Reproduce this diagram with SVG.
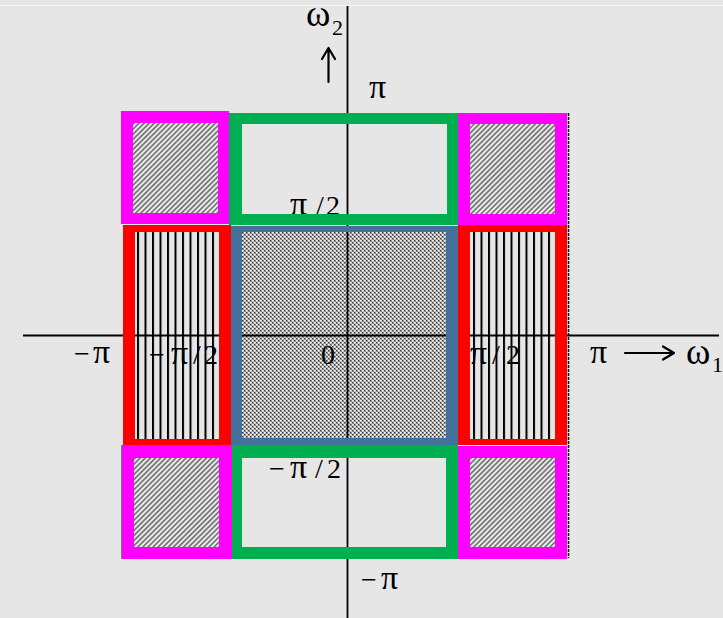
<svg xmlns="http://www.w3.org/2000/svg" width="723" height="618" viewBox="0 0 723 618">
<style>
.lbl{font-family:"Liberation Serif","Times New Roman",serif;font-size:28px;fill:#000}
.g{font-size:34px}
.w{font-size:37px}
.sub{font-size:22px}
.ax{stroke:#000;stroke-width:1.8;fill:none}
.arr{stroke:#000;stroke-width:2.2;fill:none;stroke-linecap:round;stroke-linejoin:round}
.bd{fill-rule:evenodd}
</style>
<defs>
<pattern id="diag" patternUnits="userSpaceOnUse" width="3.6" height="6" patternTransform="rotate(45)">
<rect width="3.6" height="6" fill="#ececec"/>
<rect x="1.2" width="1.2" height="6" fill="#444"/>
</pattern>
<pattern id="chk" patternUnits="userSpaceOnUse" width="4" height="4">
<rect width="4" height="4" fill="#8a8a8a"/>
<rect x="0" y="0" width="1.7" height="1.7" fill="#f4f4f4"/>
<rect x="2" y="2" width="1.7" height="1.7" fill="#f4f4f4"/>
<rect x="2" y="0" width="1" height="1" fill="#3a3a3a"/>
<rect x="0" y="2" width="1" height="1" fill="#3a3a3a"/>
</pattern>
<pattern id="strL" patternUnits="userSpaceOnUse" x="137" y="0" width="7.5" height="10">
<rect width="7.5" height="10" fill="#e6e6e6"/>
<rect width="2" height="10" fill="#000"/>
</pattern>
<pattern id="strR" patternUnits="userSpaceOnUse" x="473" y="0" width="7.5" height="10">
<rect width="7.5" height="10" fill="#e6e6e6"/>
<rect width="2" height="10" fill="#000"/>
</pattern>
</defs>
<rect width="723" height="618" fill="#e6e6e6"/>
<line x1="0" y1="5.5" x2="723" y2="5.5" stroke="#f6f6f6" stroke-width="1.2"/>

<g id="fills">
<rect x="133" y="123" width="85" height="90" fill="url(#diag)"/>
<rect x="470" y="124" width="85" height="90" fill="url(#diag)"/>
<rect x="134" y="458" width="85" height="89" fill="url(#diag)"/>
<rect x="470" y="458" width="85" height="89" fill="url(#diag)"/>
<rect x="135" y="232" width="84" height="207" fill="url(#strL)"/>
<rect x="470" y="232" width="85" height="207" fill="url(#strR)"/>
<rect x="242" y="232" width="204" height="206" fill="url(#chk)"/>
</g>

<g id="connectors">
<line class="ax" x1="347.5" y1="6" x2="347.5" y2="618"/>
<line class="ax" x1="23" y1="335.5" x2="719" y2="335.5"/>
<line x1="568.5" y1="113" x2="568.5" y2="558" stroke="#111" stroke-width="1.6" stroke-dasharray="3 1"/>
<line x1="121.5" y1="445" x2="121.5" y2="559" stroke="#777" stroke-width="1"/>
<path class="arr" d="M328.5 82 V48 M322 59 L328.5 48 L335 59"/>
<path class="arr" d="M625 353 H674 M663 346.5 L674 353 L663 359.5"/>
</g>

<g id="labels">
<text class="lbl w" x="306" y="26">ω</text>
<text class="lbl sub" x="332" y="35">2</text>
<text class="lbl g" x="369" y="98">π</text>
<text class="lbl" y="215"><tspan class="g" x="290">π</tspan><tspan x="316">/</tspan><tspan x="326">2</tspan></text>
<text class="lbl" y="363"><tspan x="74">−</tspan><tspan class="g" x="93">π</tspan></text>
<text class="lbl" y="364"><tspan x="149">−</tspan><tspan class="g" x="171">π</tspan><tspan x="193">/</tspan><tspan x="204">2</tspan></text>
<text class="lbl" x="321" y="364">0</text>
<text class="lbl" y="364"><tspan class="g" x="470">π</tspan><tspan x="492">/</tspan><tspan x="506">2</tspan></text>
<text class="lbl g" x="590" y="363">π</text>
<text class="lbl w" x="686" y="364">ω</text>
<text class="lbl sub" x="712" y="372">1</text>
<text class="lbl" y="478"><tspan x="269">−</tspan><tspan class="g" x="290">π</tspan><tspan x="315">/</tspan><tspan x="327">2</tspan></text>
<text class="lbl" y="589"><tspan x="361">−</tspan><tspan class="g" x="381">π</tspan></text>
</g>

<g id="box-tl"><path class="bd" fill="#FF00FF" d="M121 111H229V224H121Z M133 123V213H218V123Z"/></g>
<g id="box-tc"><path class="bd" fill="#00B050" d="M229 113H458V225H229Z M242 124V214H447V124Z"/></g>
<g id="box-tr"><path class="bd" fill="#FF00FF" d="M458 113H567V225H458Z M470 124V214H555V124Z"/></g>
<g id="box-ml"><path class="bd" fill="#FF0000" d="M123 225H231V445H123Z M135 232V439H219V232Z"/></g>
<g id="box-c"><path class="bd" fill="#43719C" d="M231 226H458V445H231Z M242 232V438H446V232Z"/></g>
<g id="box-mr"><path class="bd" fill="#FF0000" d="M458 225H567V445H458Z M470 232V439H555V232Z"/></g>
<g id="box-bl"><path class="bd" fill="#FF00FF" d="M122 445H232V559H122Z M134 458V547H219V458Z"/></g>
<g id="box-bc"><path class="bd" fill="#00B050" d="M232 445H458V559H232Z M242 458V547H446V458Z"/></g>
<g id="box-br"><path class="bd" fill="#FF00FF" d="M458 446H567V559H458Z M470 458V547H555V458Z"/></g>
</svg>
